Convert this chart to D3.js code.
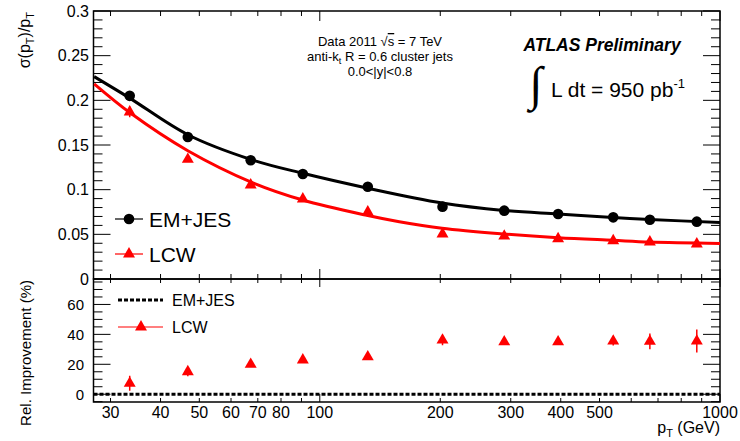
<!DOCTYPE html>
<html><head><meta charset="utf-8">
<script src="https://cdn.jsdelivr.net/npm/d3@7"></script>
<style>body{margin:0;background:#fff} text{font-family:"Liberation Sans",Arial,Helvetica,sans-serif}</style>
</head><body><svg id="c" width="740" height="441"></svg>
<script>
// ---- data ----
const ptBins   = [33.5, 46.8, 67.2, 90.7, 131.8, 202.6, 289, 394, 541, 668, 875];
const emRes    = [0.205, 0.159, 0.133, 0.1175, 0.1033, 0.081, 0.0765, 0.0728, 0.069, 0.0664, 0.0642];
const emErr    = [0.004, 0.002, 0.0015, 0.0012, 0.0012, 0.0012, 0.0012, 0.0012, 0.0015, 0.002, 0.004];
const lcwRes   = [0.187, 0.134, 0.1052, 0.0896, 0.075, 0.0504, 0.048, 0.0451, 0.0429, 0.0414, 0.0392];
const lcwErr   = [0.006, 0.002, 0.0015, 0.0012, 0.0012, 0.0012, 0.0012, 0.0012, 0.0015, 0.002, 0.003];
const impr     = [7.3, 15, 20, 22.9, 25, 36.2, 35, 35, 35.5, 35.3, 35.5];
const imprErr  = [5, 3, 1.5, 2, 2, 3.5, 1, 1, 3, 5.3, 7.7];
const emFitPt  = [27.3, 33.5, 46.8, 67.6, 90.7, 131, 202, 288, 394, 540, 668, 1000];
const emFit    = [0.2265, 0.2025, 0.1615, 0.1335, 0.1183, 0.1019, 0.0851, 0.0768, 0.0728, 0.0689, 0.0666, 0.0633];
const lcwFitPt = [27.3, 33.7, 46.8, 67.6, 90.7, 130, 158, 202, 288, 394, 540, 668, 1000];
const lcwFit   = [0.2185, 0.1855, 0.1436, 0.1082, 0.0884, 0.0716, 0.0641, 0.0568, 0.0504, 0.0462, 0.0433, 0.0414, 0.0398];
const xTickLabels = [30, 40, 50, 60, 70, 80, 100, 200, 300, 400, 500, 1000];
const yTopTickLabels = ["0", "0.05", "0.1", "0.15", "0.2", "0.25", "0.3"];
const yBotTickLabels = [0, 20, 40, 60];

// ---- layout ----
const svg = d3.select("#c");
const L = 93.5, R = 720, T = 11, M = 279, B = 402;
const x  = d3.scaleLog().domain([27.2, 1000]).range([L, R]);
const yT = d3.scaleLinear().domain([0, 0.3]).range([M, T]);
const yB = d3.scaleLinear().domain([-5.2, 77]).range([B, M]);
const RED = "#ff0000";

const defs = svg.append("defs");
defs.append("clipPath").attr("id","clipT")
  .append("rect").attr("x",L).attr("y",T).attr("width",R-L).attr("height",M-T);
defs.append("clipPath").attr("id","clipB")
  .append("rect").attr("x",L).attr("y",M).attr("width",R-L).attr("height",B-M);

const frameG = svg.append("g");
frameG.append("rect").attr("x",L).attr("y",T).attr("width",R-L).attr("height",M-T)
  .attr("fill","none").attr("stroke","#000").attr("stroke-width",1.5);
frameG.append("rect").attr("x",L).attr("y",M).attr("width",R-L).attr("height",B-M)
  .attr("fill","none").attr("stroke","#000").attr("stroke-width",1.5);

// y ticks top panel
const tk = svg.append("g").attr("stroke","#000").attr("stroke-width",1);
d3.range(0, 31).forEach(i => {
  const v = i / 100, yy = yT(v), len = i % 5 === 0 ? 17 : 9;
  tk.append("line").attr("x1",L).attr("x2",L+len).attr("y1",yy).attr("y2",yy);
  tk.append("line").attr("x1",R).attr("x2",R-len).attr("y1",yy).attr("y2",yy);
});
// y ticks bottom panel
d3.range(-5, 76, 5).forEach(v => {
  const yy = yB(v), len = v % 20 === 0 ? 17 : 9;
  tk.append("line").attr("x1",L).attr("x2",L+len).attr("y1",yy).attr("y2",yy);
  tk.append("line").attr("x1",R).attr("x2",R-len).attr("y1",yy).attr("y2",yy);
});
// x ticks
x.ticks().forEach(v => {
  const xx = x(v), maj = Math.abs(Math.log10(v) - Math.round(Math.log10(v))) < 1e-9;
  const a = maj ? 10 : 5, b = maj ? 8 : 4;
  tk.append("line").attr("x1",xx).attr("x2",xx).attr("y1",T).attr("y2",T+a);
  tk.append("line").attr("x1",xx).attr("x2",xx).attr("y1",M).attr("y2",M-a);
  tk.append("line").attr("x1",xx).attr("x2",xx).attr("y1",M).attr("y2",M+b);
  tk.append("line").attr("x1",xx).attr("x2",xx).attr("y1",B).attr("y2",B-b);
});

// tick labels
yTopTickLabels.forEach(s => {
  svg.append("text").attr("x",89).attr("y",yT(+s)).attr("dy","0.36em")
    .attr("text-anchor","end").attr("font-size",16).text(s);
});
yBotTickLabels.forEach(v => {
  svg.append("text").attr("x",84).attr("y",yB(v)).attr("dy","0.36em")
    .attr("text-anchor","end").attr("font-size",15).text(v);
});
xTickLabels.forEach(v => {
  svg.append("text").attr("x",x(v)).attr("y",418)
    .attr("text-anchor","middle").attr("font-size",16).text(v);
});

// axis titles
const xt = svg.append("text").attr("x",R).attr("y",433).attr("text-anchor","end").attr("font-size",16);
xt.append("tspan").text("p");
xt.append("tspan").attr("font-size",11).attr("dy",4).text("T");
xt.append("tspan").attr("dy",-4).text(" (GeV)");

const yt = svg.append("text").attr("transform","translate(30,12) rotate(-90)")
  .attr("text-anchor","end").attr("font-size",16);
yt.append("tspan").text("σ(p");
yt.append("tspan").attr("font-size",11).attr("dy",4).text("T");
yt.append("tspan").attr("dy",-4).text(")/p");
yt.append("tspan").attr("font-size",11).attr("dy",4).text("T");

svg.append("text").attr("transform","translate(31,280) rotate(-90)")
  .attr("text-anchor","end").attr("font-size",15).text("Rel. Improvement (%)");

// ---- top panel ----
const topG = svg.append("g").attr("clip-path","url(#clipT)");
const line = d3.line().x(d => x(d[0])).y(d => yT(d[1])).curve(d3.curveCatmullRom.alpha(0.5));
topG.append("path").attr("d", line(emFitPt.map((p,i)=>[p, emFit[i]])))
  .attr("fill","none").attr("stroke","#000").attr("stroke-width",3);
topG.append("path").attr("d", line(lcwFitPt.map((p,i)=>[p, lcwFit[i]])))
  .attr("fill","none").attr("stroke",RED).attr("stroke-width",3);

const tri = d3.symbol(d3.symbolTriangle, 62);
ptBins.forEach((p,i) => {
  const xx = x(p);
  topG.append("line").attr("x1",xx).attr("x2",xx)
    .attr("y1",yT(lcwRes[i]-lcwErr[i])).attr("y2",yT(lcwRes[i]+lcwErr[i]))
    .attr("stroke",RED).attr("stroke-width",1.5);
  topG.append("path").attr("d",tri()).attr("transform",`translate(${xx},${yT(lcwRes[i])})`).attr("fill",RED);
  topG.append("line").attr("x1",xx).attr("x2",xx)
    .attr("y1",yT(emRes[i]-emErr[i])).attr("y2",yT(emRes[i]+emErr[i]))
    .attr("stroke","#000").attr("stroke-width",1.5);
  topG.append("circle").attr("cx",xx).attr("cy",yT(emRes[i])).attr("r",5.3).attr("fill","#000");
});

// top legend
svg.append("line").attr("x1",115).attr("x2",143).attr("y1",219).attr("y2",219).attr("stroke","#000").attr("stroke-width",1.2);
svg.append("circle").attr("cx",129).attr("cy",219).attr("r",5.3).attr("fill","#000");
svg.append("text").attr("x",149).attr("y",227).attr("font-size",21).text("EM+JES");
svg.append("line").attr("x1",115).attr("x2",143).attr("y1",254).attr("y2",254).attr("stroke",RED).attr("stroke-width",1.2);
svg.append("path").attr("d",tri()).attr("transform","translate(129,254)").attr("fill",RED);
svg.append("text").attr("x",149).attr("y",262).attr("font-size",21).text("LCW");

// annotations
const a1 = svg.append("text").attr("x",380).attr("y",46).attr("text-anchor","middle").attr("font-size",13);
a1.append("tspan").text("Data 2011  √");
a1.append("tspan").style("text-decoration","overline").text("s");
a1.append("tspan").text(" = 7 TeV");
const a2 = svg.append("text").attr("x",380).attr("y",61).attr("text-anchor","middle").attr("font-size",13);
a2.append("tspan").text("anti-k");
a2.append("tspan").attr("font-size",9).attr("dy",3).text("t");
a2.append("tspan").attr("dy",-3).text(" R = 0.6 cluster jets");
svg.append("text").attr("x",380).attr("y",76).attr("text-anchor","middle").attr("font-size",13).text("0.0<|y|<0.8");

svg.append("text").attr("x",602).attr("y",51).attr("text-anchor","middle").attr("font-size",17.5)
  .attr("font-weight","bold").attr("font-style","italic").text("ATLAS Preliminary");
svg.append("text").attr("x",536).attr("y",100).attr("text-anchor","middle").attr("font-size",48)
  .style("font-family","'DejaVu Sans'").style("font-weight","200").text("∫");
const lum = svg.append("text").attr("x",551).attr("y",97).attr("font-size",21);
lum.append("tspan").text("L dt = 950 pb");
lum.append("tspan").attr("font-size",13).attr("dy",-9).text("-1");

// ---- bottom panel ----
const botG = svg.append("g").attr("clip-path","url(#clipB)");
botG.append("line").attr("x1",L).attr("x2",R).attr("y1",yB(0)).attr("y2",yB(0))
  .attr("stroke","#000").attr("stroke-width",3).attr("stroke-dasharray","4,2");
ptBins.forEach((p,i) => {
  const xx = x(p);
  botG.append("line").attr("x1",xx).attr("x2",xx)
    .attr("y1",yB(impr[i]-imprErr[i])).attr("y2",yB(impr[i]+imprErr[i]))
    .attr("stroke",RED).attr("stroke-width",1.5);
  botG.append("path").attr("d",tri()).attr("transform",`translate(${xx},${yB(impr[i])})`).attr("fill",RED);
});
// bottom legend
svg.append("line").attr("x1",118).attr("x2",163).attr("y1",300).attr("y2",300)
  .attr("stroke","#000").attr("stroke-width",3).attr("stroke-dasharray","4,2");
svg.append("text").attr("x",172).attr("y",306).attr("font-size",16).text("EM+JES");
svg.append("line").attr("x1",118).attr("x2",163).attr("y1",327).attr("y2",327).attr("stroke",RED).attr("stroke-width",1.2);
svg.append("path").attr("d",tri()).attr("transform","translate(141,327)").attr("fill",RED);
svg.append("text").attr("x",172).attr("y",333).attr("font-size",16).text("LCW");
</script></body></html>
